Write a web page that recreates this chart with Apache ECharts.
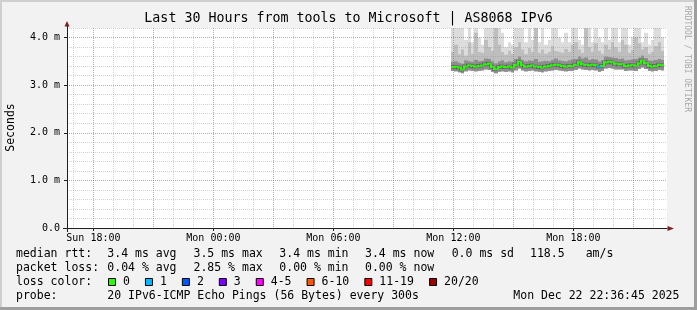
<!DOCTYPE html>
<html><head><meta charset="utf-8">
<script src="https://cdn.jsdelivr.net/npm/echarts@6/dist/echarts.min.js"></script>
<style>html,body{margin:0;padding:0;background:#f2f2f2}#c{width:697px;height:310px}</style>
</head><body><div id="c"></div>
<script>
// ---- axis / time data (hours since Sun 00:00) ----
const startHour = 16.68;
const spanHours = 30;
const minorTicksX = [17,19,20,22,23,25,26,28,29,31,32,34,35,37,38,40,41,43,44,46];
const majorTicksX = [18,21,24,27,30,33,36,39,42,45];
const labelTicksX = [18,24,30,36,42];
const labelTextX = ['Sun 18:00','Mon 00:00','Mon 06:00','Mon 12:00','Mon 18:00'];
const yMax = 4.2;
const minorTicksY = [0.2,0.4,0.6,0.8,1.2,1.4,1.6,1.8,2.2,2.4,2.6,2.8,3.2,3.4,3.6,3.8,4.2];
const majorTicksY = [0,1,2,3,4];
const labelTextY = ['0.0','1.0 m','2.0 m','3.0 m','4.0 m'];

// ---- measurement samples (ms), 10-minute steps ----
const sampleStart = 35.88;
const sampleStep = 1/6;
const median = [3.38,3.38,3.37,3.33,3.39,3.41,3.40,3.39,3.40,3.41,3.44,3.45,3.38,3.34,3.38,3.39,3.38,3.39,3.37,3.43,3.49,3.42,3.39,3.40,3.41,3.39,3.38,3.37,3.39,3.40,3.42,3.43,3.42,3.40,3.39,3.40,3.40,3.43,3.48,3.44,3.43,3.42,3.43,3.42,3.39,3.40,3.48,3.49,3.48,3.45,3.44,3.44,3.40,3.41,3.42,3.41,3.46,3.51,3.46,3.40,3.39,3.40,3.43,3.42];
const pingMin = [3.30,3.29,3.27,3.25,3.29,3.31,3.30,3.29,3.30,3.31,3.33,3.32,3.28,3.25,3.28,3.29,3.28,3.29,3.27,3.31,3.35,3.31,3.29,3.30,3.31,3.29,3.28,3.27,3.29,3.30,3.31,3.32,3.31,3.30,3.29,3.30,3.30,3.32,3.35,3.33,3.32,3.31,3.32,3.31,3.28,3.30,3.35,3.36,3.35,3.33,3.33,3.33,3.30,3.31,3.31,3.30,3.34,3.37,3.34,3.30,3.29,3.30,3.32,3.31];
const darkTop = [3.49,3.50,3.47,3.45,3.52,3.50,3.49,3.53,3.50,3.51,3.56,3.55,3.50,3.46,3.50,3.52,3.48,3.50,3.49,3.55,3.60,3.53,3.50,3.52,3.51,3.55,3.49,3.50,3.51,3.50,3.53,3.56,3.52,3.51,3.50,3.52,3.54,3.55,3.60,3.56,3.58,3.53,3.55,3.54,3.50,3.52,3.60,3.59,3.58,3.57,3.55,3.56,3.52,3.53,3.54,3.55,3.58,3.62,3.57,3.52,3.51,3.53,3.55,3.53];
const midTop = [3.70,3.85,3.65,3.75,3.62,3.90,3.66,4.10,3.70,3.68,3.95,3.80,3.72,4.30,3.85,3.70,3.64,3.72,3.66,3.80,3.90,3.75,3.65,3.78,3.70,4.30,3.68,3.75,3.66,3.70,3.82,3.72,3.70,3.68,3.76,3.70,3.85,3.90,3.75,3.68,4.30,3.80,3.70,3.88,3.72,3.66,3.85,3.75,3.90,3.80,3.70,3.95,3.85,3.68,3.74,4.00,3.88,3.75,3.80,3.66,3.70,3.82,3.90,3.72];
const pingMax = [4.30,4.30,4.30,4.30,3.95,4.30,3.90,4.30,4.00,3.85,4.30,4.30,4.30,4.30,4.30,4.10,3.80,3.90,3.85,4.30,4.30,4.30,3.90,4.30,3.95,4.30,3.90,4.30,3.85,3.95,4.30,4.30,4.00,3.90,4.10,3.90,4.30,4.30,3.95,3.85,4.30,4.30,3.90,4.30,4.00,3.90,4.30,3.95,4.30,4.30,3.90,4.30,4.30,3.85,4.00,4.30,4.30,3.90,4.10,3.85,3.95,4.30,4.30,4.00];
const lostPings = [0,0,0,0,0,0,0,0,0,0,0,0,0,0,0,0,0,0,0,0,0,0,0,0,0,0,0,0,0,0,0,0,0,0,0,0,0,0,0,0,0,0,0,0,1,0,0,0,0,0,0,0,0,0,0,0,0,0,0,0,0,0,0,0];

// ---- legend ----
const lossLabels = ['0','1','2','3','4-5','6-10','11-19','20/20'];
const lossUpper = [0,1,2,3,5,10,19,20];
const lossColors = ['#26ff00','#00b8ff','#0059ff','#7e00ff','#ff00ff','#ff5500','#ff0000','#a10000'];
const line1 = [['median rtt:',16],['3.4 ms avg',107.3],['3.5 ms max',193.5],['3.4 ms min',279.3],['3.4 ms now',365],['0.0 ms sd',451.7],['118.5',530],['am/s',585.7]];
const line2 = [['packet loss:',16],['0.04 % avg',107.3],['2.85 % max',193.5],['0.00 % min',279.3],['0.00 % now',365]];
const line4 = [['probe:',16],['20 IPv6-ICMP Echo Pings (56 Bytes) every 300s',107.3],['Mon Dec 22 22:36:45 2025',513.3]];
const titleText = 'Last 30 Hours from tools to Microsoft | AS8068 IPv6';

const MONO = '"DejaVu Sans Mono", monospace';
const chart = echarts.init(document.getElementById('c'), null, {renderer:'canvas'});

function lossColor(n){ for (let k=0;k<lossUpper.length;k++) if (n<=lossUpper[k]) return lossColors[k]; return lossColors[lossColors.length-1]; }

function band(lowArr, highArr, color){
  return {
    type:'custom', xAxisIndex:2, yAxisIndex:1, clip:true, z:2, silent:true, animation:false,
    encode:{x:0, y:[1,2]},
    data: lowArr.map((v,i)=>[sampleStart+i*sampleStep, v, highArr[i]]),
    renderItem(params, api){
      const t = api.value(0);
      const a = api.coord([t, api.value(2)]);
      const b = api.coord([t+sampleStep, api.value(1)]);
      const x0 = Math.round(a[0]), x1 = Math.round(b[0]);
      return {type:'rect', shape:{x:x0, y:a[1], width:x1-x0, height:b[1]-a[1]}, style:{fill:color}};
    }
  };
}

const medSeries = {
  type:'custom', xAxisIndex:2, yAxisIndex:1, clip:true, z:5, silent:true, animation:false,
  encode:{x:0, y:1},
  data: median.map((v,i)=>[sampleStart+i*sampleStep, v, i>0?median[i-1]:v, lostPings[i]]),
  renderItem(params, api){
    const t = api.value(0);
    const p0 = api.coord([t, api.value(2)]);
    const p1 = api.coord([t, api.value(1)]);
    const p2 = api.coord([t+sampleStep, api.value(1)]);
    const x0 = Math.round(p1[0]), x1 = Math.round(p2[0]);
    const pts = [[x0,p0[1]],[x0,p1[1]],[x1,p2[1]]];
    return {type:'group', children:[
      {type:'polyline', shape:{points:pts}, style:{stroke:'rgba(60,60,60,0.35)', lineWidth:4, fill:null}},
      {type:'polyline', shape:{points:pts}, style:{stroke:lossColor(api.value(3)), lineWidth:2, fill:null}}
    ]};
  }
};

const minorGrid = {color:'rgba(143,143,143,0.4)', type:[1,1], width:1};
const majorGrid = {color:'rgba(222,79,79,0.62)', type:[1,1], width:1};

function xAx(ticks, opts){
  return Object.assign({
    type:'value', min:startHour, max:startHour+spanHours, position:'bottom', z:3,
    axisLine:{show:false}, axisTick:{show:false, customValues:ticks}, axisLabel:{show:false, customValues:ticks},
    splitLine:{show:false}
  }, opts);
}

const graphics = [];
// borders
graphics.push({type:'rect', shape:{x:0,y:0,width:697,height:2}, style:{fill:'#cfcfcf'}, z:100});
graphics.push({type:'rect', shape:{x:0,y:0,width:2,height:310}, style:{fill:'#cfcfcf'}, z:100});
graphics.push({type:'rect', shape:{x:694,y:0,width:3,height:310}, style:{fill:'#9e9e9e'}, z:101});
graphics.push({type:'rect', shape:{x:0,y:307,width:697,height:3}, style:{fill:'#9e9e9e'}, z:101});
// title
graphics.push({type:'text', x:348.5, y:19, style:{text:titleText, font:'13.3px '+MONO, fill:'#000', textAlign:'center', textVerticalAlign:'middle'}});
// y title
graphics.push({type:'text', x:11, y:127.5, rotation:Math.PI/2, style:{text:'Seconds', font:'11.5px '+MONO, fill:'#000', textAlign:'center', textVerticalAlign:'middle'}});
// watermark
graphics.push({type:'text', x:687, y:59, rotation:-Math.PI/2, style:{text:'RRDTOOL / TOBI OETIKER', font:'8px '+MONO, fill:'#a8a8a8', textAlign:'center', textVerticalAlign:'middle'}});
// arrows + axis extensions
graphics.push({type:'polygon', shape:{points:[[64.5,26.5],[69.5,26.5],[67,21]]}, style:{fill:'#7f1f1f'}, z:20});
graphics.push({type:'line', shape:{x1:67.5,y1:26,x2:67.5,y2:28}, style:{stroke:'#1f1f1f', lineWidth:1}, z:20});
graphics.push({type:'line', shape:{x1:67.5,y1:228,x2:67.5,y2:232}, style:{stroke:'#1f1f1f', lineWidth:1}, z:20});
graphics.push({type:'line', shape:{x1:63,y1:228.5,x2:67,y2:228.5}, style:{stroke:'#1f1f1f', lineWidth:1}, z:20});
graphics.push({type:'polygon', shape:{points:[[667.5,226],[667.5,231],[674,228.5]]}, style:{fill:'#7f1f1f'}, z:20});

function addText(arr, y){
  arr.forEach(([s,x])=>graphics.push({type:'text', x:x, y:y, style:{text:s, font:'11.5px '+MONO, fill:'#000', textAlign:'left', textVerticalAlign:'middle'}}));
}
addText(line1, 254.5);
addText(line2, 268.5);
addText([['loss color:',16]], 282.5);
addText(line4, 296.5);
// loss colour boxes
let bx = 108;
const cw = 6.94;
lossLabels.forEach((lab,k)=>{
  graphics.push({type:'rect', shape:{x:bx+0.5, y:278.5, width:7, height:7}, style:{fill:lossColors[k], stroke:'#000', lineWidth:1}});
  graphics.push({type:'text', x:bx+15, y:282.5, style:{text:lab, font:'11.5px '+MONO, fill:'#000', textAlign:'left', textVerticalAlign:'middle'}});
  bx = bx + 15 + lab.length*cw + 15;
});

chart.setOption({
  animation:false,
  backgroundColor:'#f2f2f2',
  grid:{left:67, top:28, width:600, height:200, show:true, backgroundColor:'#ffffff', borderWidth:0, outerBoundsMode:'none', containLabel:false},
  xAxis:[
    xAx(minorTicksX, {splitLine:{show:true, lineStyle:minorGrid}}),
    xAx(majorTicksX, {splitLine:{show:true, lineStyle:majorGrid}}),
    xAx(labelTicksX, {
      axisLine:{show:true, onZero:false, lineStyle:{color:'#1f1f1f', width:1}},
      axisTick:{show:true, customValues:labelTicksX, length:3, lineStyle:{color:'#1f1f1f'}},
      axisLabel:{show:true, customValues:labelTicksX, margin:5, fontFamily:MONO, fontSize:10, color:'#000',
        formatter:(v)=>{const k=labelTicksX.indexOf(v); return k>=0?labelTextX[k]:'';}}
    })
  ],
  yAxis:[
    {type:'value', position:'left', min:0, max:yMax, z:3, axisLine:{show:false},
      axisTick:{show:false, customValues:minorTicksY}, axisLabel:{show:false, customValues:minorTicksY},
      splitLine:{show:true, lineStyle:minorGrid}},
    {type:'value', position:'left', min:0, max:yMax, z:3,
      axisLine:{show:true, onZero:false, lineStyle:{color:'#1f1f1f', width:1}},
      axisTick:{show:true, customValues:majorTicksY, length:3, lineStyle:{color:'#1f1f1f'}},
      axisLabel:{show:true, customValues:majorTicksY, margin:7, fontFamily:MONO, fontSize:10, color:'#000',
        formatter:(v)=>{const k=majorTicksY.indexOf(v); return k>=0?labelTextY[k]:'';}},
      splitLine:{show:true, lineStyle:majorGrid}}
  ],
  series:[
    band(pingMin, pingMax, '#dcdcdc'),
    band(pingMin, midTop, '#bebebe'),
    band(pingMin, darkTop, '#8e8e8e'),
    medSeries
  ],
  graphic:{elements:graphics}
});
</script></body></html>
